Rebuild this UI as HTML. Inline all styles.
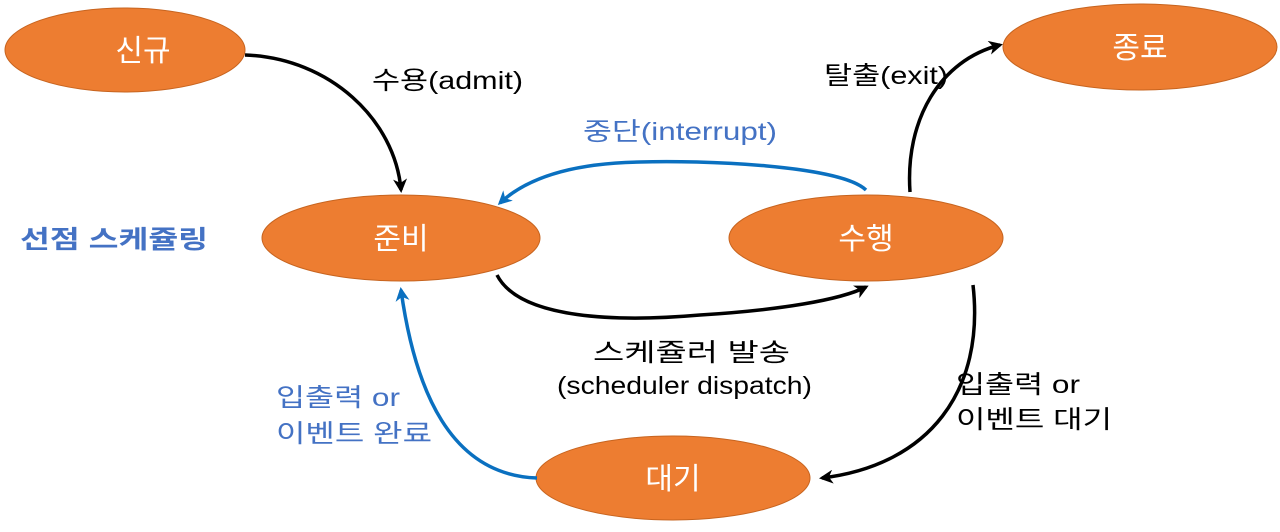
<!DOCTYPE html>
<html><head><meta charset="utf-8"><style>
html,body{margin:0;padding:0;background:#fff;}
svg text{font-family:"Liberation Sans","Noto Sans CJK KR",sans-serif;}
</style></head><body>
<svg width="1280" height="527" viewBox="0 0 1280 527" xmlns="http://www.w3.org/2000/svg">
<defs>
<marker id="ab" markerWidth="14" markerHeight="14" refX="11" refY="7" orient="auto" markerUnits="userSpaceOnUse"><path d="M0,0 L14,7 L0,14 L4,7 z" fill="#000"/></marker>
<marker id="au" markerWidth="14" markerHeight="14" refX="11" refY="7" orient="auto" markerUnits="userSpaceOnUse"><path d="M0,0 L14,7 L0,14 L4,7 z" fill="#0a70c0"/></marker>
</defs>
<g fill="#ed7d31" stroke="#c7641f" stroke-width="1">
<ellipse cx="125" cy="50" rx="120" ry="42"/>
<ellipse cx="1140" cy="47" rx="137" ry="43"/>
<ellipse cx="401" cy="238" rx="139" ry="43"/>
<ellipse cx="866" cy="238" rx="137" ry="43"/>
<ellipse cx="673" cy="478" rx="137" ry="42"/>
</g>
<g fill="none" stroke-width="3.5">
<path d="M245,55 C330,58 395,120 401,190" stroke="#000" marker-end="url(#ab)"/>
<path d="M866,190 C840,165 700,160 640,162 C580,163 530,175 500,203" stroke="#0a70c0" marker-end="url(#au)"/>
<path d="M910,192 C905,120 940,60 1000,45" stroke="#000" marker-end="url(#ab)"/>
<path d="M497,275 C520,320 620,322 700,315 C780,310 840,300 866,287" stroke="#000" marker-end="url(#ab)"/>
<path d="M973,285 C985,390 930,465 822,478" stroke="#000" marker-end="url(#ab)"/>
<path d="M537,478 C450,475 415,390 401,290" stroke="#0a70c0" marker-end="url(#au)"/>
</g>
<g fill="#fff" font-size="30" text-anchor="middle">
<text x="143" y="61">신규</text>
<text x="1140" y="58">종료</text>
<text x="401" y="249">준비</text>
<text x="866" y="249">수행</text>
<text x="673" y="489">대기</text>
</g>
<g font-size="25" fill="#000" lengthAdjust="spacingAndGlyphs">
<text x="372" y="89" textLength="151" lengthAdjust="spacingAndGlyphs">수용(admit)</text>
<text x="824" y="84" textLength="124" lengthAdjust="spacingAndGlyphs">탈출(exit)</text>
<text x="593" y="361" textLength="197" lengthAdjust="spacingAndGlyphs">스케쥴러 발송</text>
<text x="557" y="394" textLength="255" lengthAdjust="spacingAndGlyphs">(scheduler dispatch)</text>
<text x="956" y="393" textLength="124" lengthAdjust="spacingAndGlyphs">입출력 or</text>
<text x="956" y="428" textLength="156" lengthAdjust="spacingAndGlyphs">이벤트 대기</text>
</g>
<g font-size="25" fill="#4472c4">
<text x="583" y="140" textLength="194" lengthAdjust="spacingAndGlyphs">중단(interrupt)</text>
<text x="276" y="406" textLength="124" lengthAdjust="spacingAndGlyphs">입출력 or</text>
<text x="276" y="442" textLength="156" lengthAdjust="spacingAndGlyphs">이벤트 완료</text>
<text x="20" y="248" font-weight="bold" textLength="188" lengthAdjust="spacingAndGlyphs">선점 스케쥴링</text>
</g>
</svg>
</body></html>
